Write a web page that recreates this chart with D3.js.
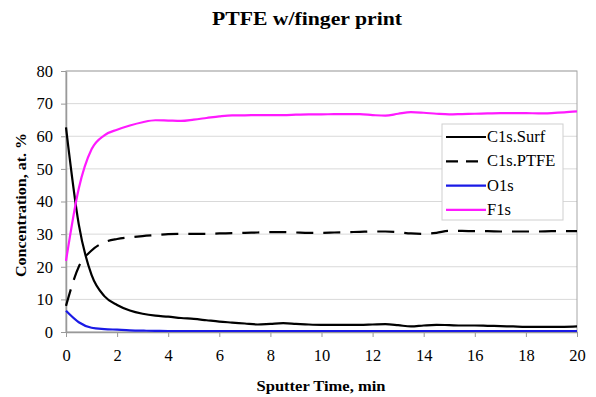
<!DOCTYPE html>
<html><head><meta charset="utf-8">
<script src="https://cdn.jsdelivr.net/npm/d3@7"></script>
<style>body{margin:0;background:#fff;}svg{display:block;} svg text{font-family:"Liberation Serif","Times New Roman",serif !important;}</style>
</head><body><svg id="c" width="596" height="397"></svg>
<script>
const times = d3.range(0, 20.01, 0.5);
const c1sSurf = [62.7,33,17.5,11,8.3,6.6,5.6,5.0,4.7,4.3,4.0,3.6,3.2,2.9,2.6,2.3,2.5,2.7,2.5,2.3,2.2,2.2,2.2,2.2,2.3,2.4,2.1,1.7,2.0,2.2,2.1,2.0,2.0,1.9,1.8,1.7,1.6,1.6,1.6,1.6,1.7];
const c1sPTFE = [8.0,20,25,27.5,28.5,29,29.4,29.7,30.0,30.1,30.1,30.1,30.2,30.3,30.4,30.5,30.6,30.6,30.5,30.4,30.4,30.5,30.6,30.7,30.8,30.8,30.6,30.2,30.1,30.4,31.0,31.0,30.9,30.9,30.8,30.8,30.8,30.8,30.9,30.9,30.9];
const o1s = [6.5,3.0,1.3,0.9,0.7,0.5,0.4,0.35,0.3,0.3,0.3,0.3,0.3,0.3,0.3,0.3,0.3,0.3,0.3,0.3,0.3,0.3,0.3,0.3,0.3,0.3,0.3,0.3,0.3,0.3,0.3,0.3,0.3,0.3,0.3,0.3,0.3,0.3,0.3,0.3,0.3];
const f1s = [21.8,44,56,60.3,62,63.3,64.3,64.9,64.8,64.7,65.1,65.6,66.1,66.4,66.4,66.5,66.5,66.5,66.6,66.7,66.7,66.8,66.8,66.8,66.5,66.3,66.9,67.4,67.2,66.9,66.7,66.8,66.9,67.0,67.1,67.1,67.1,67.0,67.1,67.3,67.6];
const seriesNames = ["C1s.Surf","C1s.PTFE","O1s","F1s"];
const seriesValues = [c1sSurf, c1sPTFE, o1s, f1s];
const seriesColors = ["#000000","#000000","#1a1ae6","#ff1aff"];
const seriesDash = [null,"17,10",null,null];
const xTicks = d3.range(0, 21, 2);
const yTicks = d3.range(0, 81, 10);
const title = "PTFE w/finger print";
const xTitle = "Sputter Time, min";
const yTitle = "Concentration, at. %";

const svg = d3.select("#c");
const L = 66, R = 577, T = 71, B = 332;
const x = d3.scaleLinear().domain([0,20]).range([L,R]);
const y = d3.scaleLinear().domain([0,80]).range([B,T]);

svg.append("g").selectAll("line").data(yTicks.filter(d=>d>0)).join("line")
  .attr("x1",L).attr("x2",R).attr("y1",d=>y(d)).attr("y2",d=>y(d))
  .attr("stroke","#d9d9d9").attr("stroke-width",1);
svg.append("rect").attr("x",L).attr("y",T).attr("width",R-L).attr("height",B-T)
  .attr("fill","none").attr("stroke","#a6a6a6").attr("stroke-width",1);

const xAxis = svg.append("g").attr("transform",`translate(0,${B})`)
  .call(d3.axisBottom(x).tickValues(xTicks).tickSize(5).tickSizeOuter(0).tickPadding(12));
const yAxis = svg.append("g").attr("transform",`translate(${L},0)`)
  .call(d3.axisLeft(y).tickValues(yTicks).tickSize(5).tickSizeOuter(0).tickPadding(8));
[xAxis,yAxis].forEach(g=>{
  g.attr("font-family",null);
  g.select(".domain").attr("stroke","#999").attr("stroke-width",1.5);
  g.selectAll(".tick line").attr("stroke","#999");
  g.selectAll("text").attr("font-size",16.5).attr("fill","#000");
});

const line = d3.line().x((d,i)=>x(times[i])).y(d=>y(d)).curve(d3.curveMonotoneX);
seriesValues.forEach((vals,k)=>{
  const p = svg.append("path").datum(vals).attr("d",line)
    .attr("fill","none").attr("stroke",seriesColors[k]).attr("stroke-width",2.2)
    .attr("stroke-linejoin","round");
  if(seriesDash[k]) p.attr("stroke-dasharray",seriesDash[k]);
});

const lg = svg.append("g");
lg.append("rect").attr("x",442).attr("y",124).attr("width",121).attr("height",96)
  .attr("fill","#fff").attr("stroke","#cfcfcf");
seriesNames.forEach((n,k)=>{
  const yy = 137 + k*24.3;
  const l = lg.append("line").attr("x1",446).attr("x2",486).attr("y1",yy).attr("y2",yy)
    .attr("stroke",seriesColors[k]).attr("stroke-width",2.2);
  if(seriesDash[k]) l.attr("stroke-dasharray","12,8");
  lg.append("text").attr("x",487).attr("y",yy+5).attr("font-size",16.5).text(n);
});

svg.append("text").attr("x",307).attr("y",25).attr("text-anchor","middle")
  .attr("font-weight","bold").attr("font-size",19)
  .attr("textLength",190).attr("lengthAdjust","spacingAndGlyphs").text(title);
svg.append("text").attr("x",321).attr("y",391).attr("text-anchor","middle")
  .attr("font-weight","bold").attr("font-size",15.5)
  .attr("textLength",129).attr("lengthAdjust","spacingAndGlyphs").text(xTitle);
svg.append("text").attr("transform","translate(26,205) rotate(-90)").attr("text-anchor","middle")
  .attr("font-weight","bold").attr("font-size",15.5)
  .attr("textLength",144).attr("lengthAdjust","spacingAndGlyphs").text(yTitle);
</script></body></html>
